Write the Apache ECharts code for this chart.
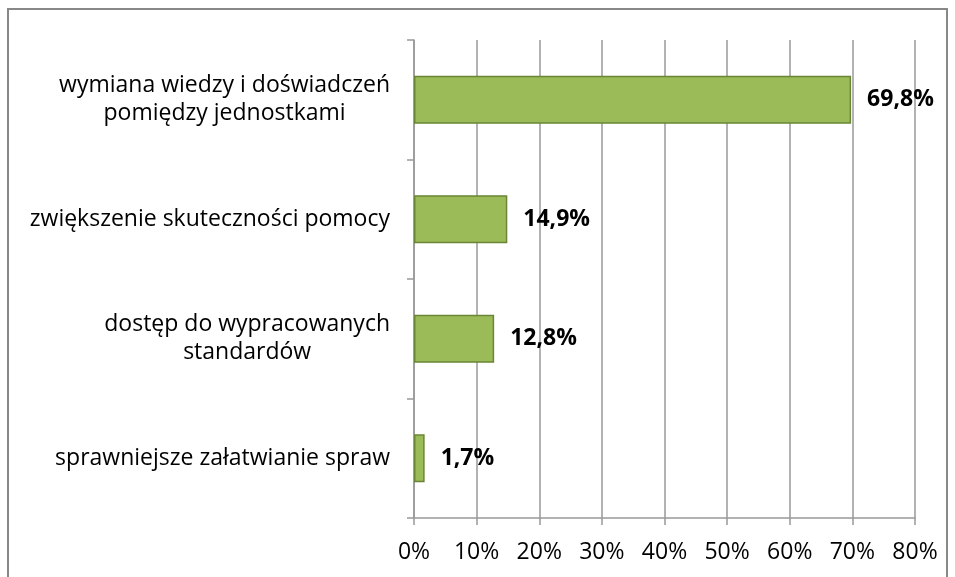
<!DOCTYPE html>
<html>
<head>
<meta charset="utf-8">
<script src="https://cdn.jsdelivr.net/npm/echarts@6/dist/echarts.min.js"></script>
<style>
  html, body { margin: 0; padding: 0; background: #fff; }
  #chart { width: 955px; height: 577px; }
</style>
</head>
<body>
<div id="chart"></div>
<script>
var categories = [
    'wymiana wiedzy i doświadczeń\npomiędzy jednostkami',
    'zwiększenie skuteczności pomocy',
    'dostęp do wypracowanych\nstandardów',
    'sprawniejsze załatwianie spraw'
];
var values = [69.8, 14.9, 12.8, 1.7];
var xTicks = [0, 10, 20, 30, 40, 50, 60, 70, 80];

var font = '"Open Sans", Lato, sans-serif';
var chart = echarts.init(document.getElementById('chart'));

var option = {
    animation: false,
    grid: { left: 414, right: 40, top: 40, bottom: 59 },
    graphic: [{
        type: 'rect',
        shape: { x: 8, y: 9, width: 939, height: 580 },
        style: { fill: 'none', stroke: '#888', lineWidth: 2 },
        silent: true
    }],
    xAxis: {
        type: 'value',
        min: xTicks[0],
        max: xTicks[xTicks.length - 1],
        interval: 10,
        axisLine: { show: true, lineStyle: { color: '#999', width: 1.5 } },
        axisTick: { show: true, length: 7, lineStyle: { color: '#999', width: 1.5 } },
        splitLine: { show: true, lineStyle: { color: '#999', width: 1.5 } },
        axisLabel: {
            margin: 23,
            color: '#000',
            fontSize: 23,
            fontFamily: font,
            formatter: function (v) { return v + '%'; }
        }
    },
    yAxis: {
        type: 'category',
        inverse: true,
        data: categories,
        axisLine: { show: true, lineStyle: { color: '#999', width: 1.5 } },
        axisTick: { show: true, length: 7, lineStyle: { color: '#999', width: 1.5 } },
        axisLabel: {
            margin: 24,
            color: '#000',
            fontSize: 23,
            fontFamily: font,
            lineHeight: 28,
            formatter: function (v) {
                return v.split('\n').map(function (s) { return '{c|' + s + '}'; }).join('\n');
            },
            rich: {
                c: { align: 'center', fontSize: 23, fontFamily: font, color: '#000', lineHeight: 28 }
            }
        }
    },
    series: [{
        type: 'bar',
        data: values,
        barWidth: '40%',
        itemStyle: { color: '#9BBB59', borderColor: '#6A8535', borderWidth: 1.5 },
        label: {
            show: true,
            position: 'right',
            distance: 16,
            color: '#000',
            fontWeight: 'bold',
            fontSize: 23,
            fontFamily: font,
            formatter: function (p) { return String(p.value).replace('.', ',') + '%'; }
        }
    }]
};
chart.setOption(option);
</script>
</body>
</html>
